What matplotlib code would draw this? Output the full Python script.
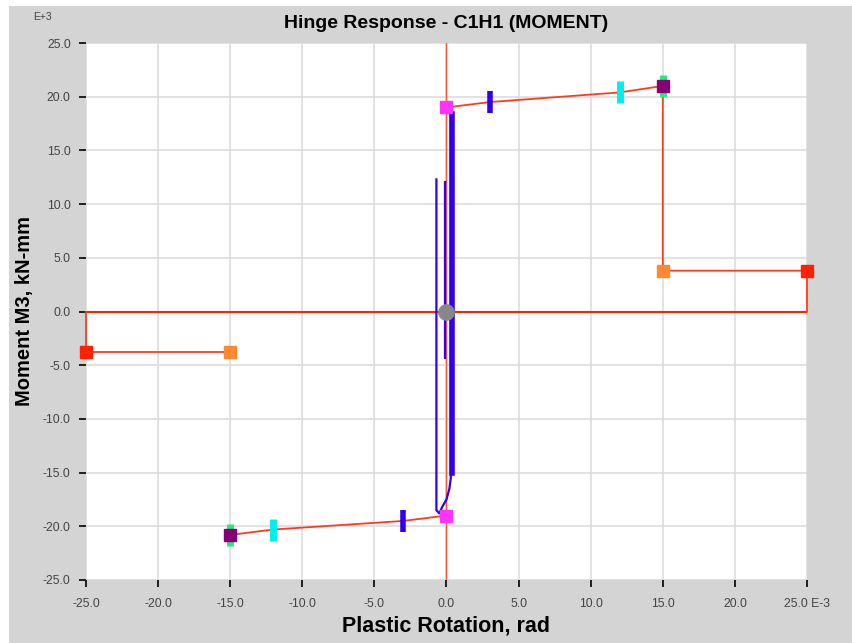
import matplotlib.pyplot as plt
import matplotlib.patches as patches
import numpy as np

# backbone (x in E-3 rad, y in E+3 kN-mm)
backbone_pos_x = [0.0, 3.0, 12.0, 15.0, 15.0, 25.0, 25.0]
backbone_pos_y = [19.0, 19.5, 20.4, 21.0, 3.8, 3.8, 0.0]
backbone_neg_x = [0.0, -3.0, -12.0, -15.0]
backbone_neg_y = [-19.0, -19.5, -20.3, -20.8]
residual_neg_x = [-25.0, -25.0, -15.0]
residual_neg_y = [0.0, -3.8, -3.8]

# hinge response trace
trace_x = [0.3, 0.3, 0.2, 0.0, -0.3, -0.5, -0.7, -0.7]
trace_y = [18.5, -15.5, -16.5, -17.5, -18.2, -18.8, -18.5, 12.3]
trace2_x = [-0.1, -0.1]
trace2_y = [12.1, -4.3]

# point markers
yield_pts = [(0.0, 19.0), (0.0, -19.0)]
io_pts = [(3.0, 19.5), (-3.0, -19.5)]
ls_pts = [(12.0, 20.4), (-12.0, -20.3)]
cp_pts = [(15.0, 21.0), (-15.0, -20.8)]
resid_start = [(15.0, 3.8), (-15.0, -3.8)]
resid_end = [(25.0, 3.8), (-25.0, -3.8)]

xticks = np.arange(-25, 26, 5)
yticks = np.arange(-25, 26, 5)

plt.rcParams['font.family'] = ['Liberation Sans', 'DejaVu Sans']

fig = plt.figure(figsize=(8.53, 6.43), dpi=100, facecolor='white')
bg = patches.Rectangle((9 / 853, 0), 1, 1 - 6 / 643,
                       transform=fig.transFigure,
                       facecolor='#d4d4d4', edgecolor='none', zorder=-10)
fig.add_artist(bg)
ax = fig.add_axes([86 / 853, 63 / 643, 721 / 853, 537 / 643])
ax.set_facecolor('white')
for s in ax.spines.values():
    s.set_visible(False)

ax.set_xlim(-25, 25)
ax.set_ylim(-25, 25)
ax.set_xticks(xticks)
ax.set_yticks(yticks)
xl = ['{:.1f}'.format(v) for v in xticks]
xl[-1] = xl[-1] + ' E-3'
ax.set_xticklabels(xl, fontsize=8.8, color='#444444')
ax.set_yticklabels(['{:.1f}'.format(v) for v in yticks], fontsize=8.8,
                   color='#444444')
ax.tick_params(direction='out', length=5, width=1.2, color='black')
ax.tick_params(axis='x', pad=8)
ax.tick_params(axis='y', pad=6)
ax.grid(True, color='#dddddd', lw=1.2)
ax.set_axisbelow(True)

# zero axes
ax.axhline(0, color='#ff2200', lw=1.5, zorder=2)
ax.axvline(0, color='#ff5533', lw=1.0, zorder=2)

# backbone
ax.plot(backbone_pos_x, backbone_pos_y, color='#ff3b1f', lw=1.3, zorder=3,
        clip_on=False)
ax.plot(backbone_neg_x, backbone_neg_y, color='#ff3b1f', lw=1.3, zorder=3)
ax.plot(residual_neg_x, residual_neg_y, color='#ff3b1f', lw=1.3, zorder=3,
        clip_on=False)

# response trace
ax.plot(trace_x, trace_y, color='#3300ee', lw=1.6, zorder=4)
ax.plot(trace2_x, trace2_y, color='#3300ee', lw=1.6, zorder=4)
ax.plot([0.35, 0.35], [18.4, -15.0], color='#3300ee', lw=4, zorder=4)

# markers
for x, y in cp_pts:
    ax.plot(x, y, marker='|', ms=16, mew=5, color='#22ee77', zorder=5)
    ax.plot(x, y, marker='s', ms=9, color='#880077', zorder=6)
for x, y in ls_pts:
    ax.plot(x, y, marker='|', ms=16, mew=5, color='#00eeee', zorder=5)
for x, y in io_pts:
    ax.plot(x, y, marker='|', ms=16, mew=4, color='#3300ee', zorder=5)
for x, y in yield_pts:
    ax.plot(x, y, marker='s', ms=8, color='#ff33ff', zorder=6)
for x, y in resid_start:
    ax.plot(x, y, marker='s', ms=8, color='#ff8833', zorder=6)
for x, y in resid_end:
    ax.plot(x, y, marker='s', ms=8, color='#ff2200', zorder=6,
            clip_on=False)
ax.plot(0, 0, marker='o', ms=11, color='#888888', zorder=7)

ax.set_xlabel('Plastic Rotation, rad', fontsize=15.5, fontweight='bold',
              labelpad=4)
ax.set_ylabel('Moment M3, kN-mm', fontsize=14.5, fontweight='bold')
ax.yaxis.set_label_coords(-52 / 721, 0.5)
ax.set_title('Hinge Response - C1H1 (MOMENT)', fontsize=14,
             fontweight='bold', pad=11)
fig.text(33 / 853, 1 - 17 / 643, 'E+3', fontsize=7.5, color='#444444',
         ha='left', va='center')

fig.savefig('out.png', dpi=100, facecolor=fig.get_facecolor())
